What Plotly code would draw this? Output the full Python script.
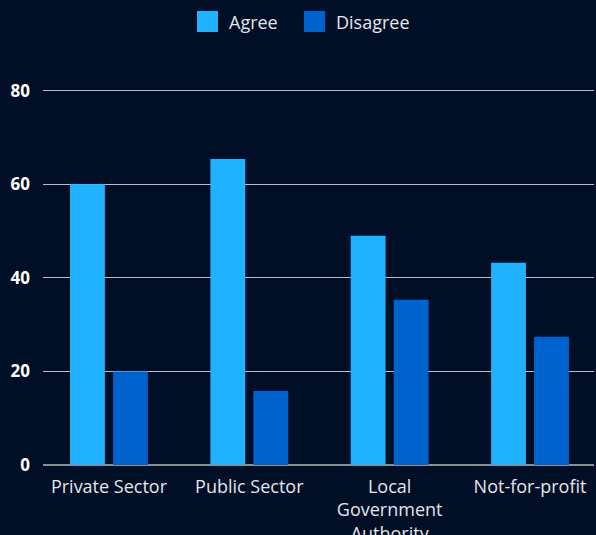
import plotly.graph_objects as go

categories = ["Private Sector", "Public Sector", "Local<br>Government<br>Authority", "Not-for-profit"]
agree = [60.0, 65.4, 49.0, 43.2]
disagree = [20.0, 15.8, 35.3, 27.4]
y_ticks = [0, 20, 40, 60, 80]
series_names = ["Agree", "Disagree"]

BG = "#000e26"
AGREE_COLOR = "#20b2ff"
DISAGREE_COLOR = "#0062cc"
TEXT = "#e4e6ea"
FONT = "Open Sans"

W, H = 596, 535
M_L, M_R, M_T, M_B = 43, 2, 86, 70
PLOT_W = W - M_L - M_R
PLOT_H = H - M_T - M_B
BASE_Y = H - M_B  # pixel row of the plot bottom


def px_x(x):
    return (x - M_L) / PLOT_W


def px_y(y):
    return (BASE_Y - y) / PLOT_H


fig = go.Figure()
fig.add_trace(go.Bar(name=series_names[0], x=categories, y=agree, marker_color=AGREE_COLOR,
                     marker_line_width=0, showlegend=False))
fig.add_trace(go.Bar(name=series_names[1], x=categories, y=disagree, marker_color=DISAGREE_COLOR,
                     marker_line_width=0, showlegend=False))

# Legend drawn as swatches + labels centred across the top of the page
legend_items = [(series_names[0], AGREE_COLOR, 197), (series_names[1], DISAGREE_COLOR, 304)]
for name, color, x0 in legend_items:
    fig.add_shape(type="rect", xref="paper", yref="paper",
                  x0=px_x(x0), x1=px_x(x0 + 21), y0=px_y(32), y1=px_y(11),
                  fillcolor=color, line_width=0, layer="above")
    fig.add_annotation(text=name, xref="paper", yref="paper",
                       x=px_x(x0 + 30), y=px_y(21.5),
                       xanchor="left", yanchor="middle", showarrow=False,
                       font=dict(family=FONT, size=18, color=TEXT))

fig.update_layout(
    width=W, height=H,
    paper_bgcolor=BG, plot_bgcolor=BG,
    margin=dict(l=M_L, r=M_R, t=M_T, b=M_B),
    barmode="group", bargap=0.387, bargroupgap=0.19,
    font=dict(family=FONT, color=TEXT, size=18),
    showlegend=False,
)
fig.update_xaxes(range=[-0.47, 3.456], automargin=False, showgrid=False, showline=False,
                 ticks="", zeroline=False, ticklabelstandoff=9,
                 tickfont=dict(family=FONT, size=18, color=TEXT))
fig.update_yaxes(range=[0, 81], tickvals=y_ticks, automargin=False, showgrid=True,
                 gridcolor="#b8bcc4", gridwidth=1, zeroline=True, zerolinecolor="#8a8e96",
                 zerolinewidth=2, showline=False, ticks="", ticklabelstandoff=12,
                 tickfont=dict(family=FONT, size=17, color="#ffffff", weight="bold"))

fig.write_html("out.html")
